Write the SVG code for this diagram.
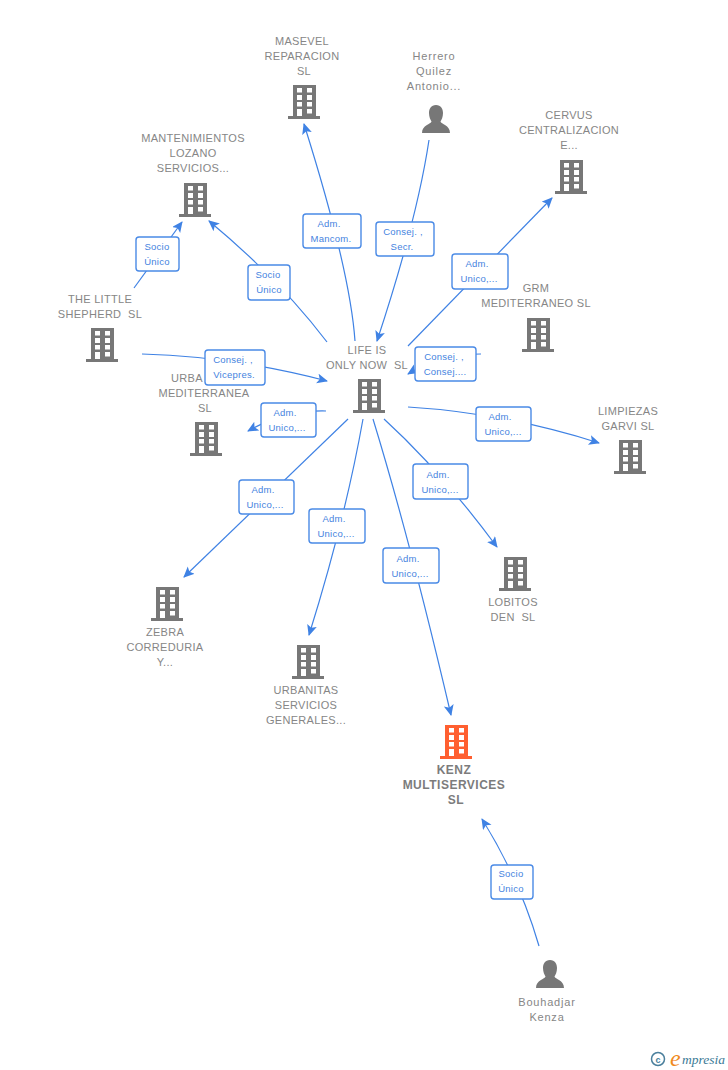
<svg xmlns="http://www.w3.org/2000/svg" width="728" height="1070" viewBox="0 0 728 1070">
<style>
text{font-family:"Liberation Sans",Arial,sans-serif;white-space:pre}
.n{font-size:11px;fill:#868686;text-anchor:middle;letter-spacing:.3px}
.p{font-size:11px;fill:#868686;text-anchor:middle;letter-spacing:.8px}
.k{font-size:12px;font-weight:bold;fill:#7c7c7c;text-anchor:middle;letter-spacing:.5px}
.l{font-size:9.500px;fill:#4583e0;text-anchor:middle;letter-spacing:.25px}
.c{fill:none;stroke:#3f82e4;stroke-width:1.200}
.b{fill:#fff;stroke:#4a8ae6;stroke-width:1.400}
.w{fill:#fff}
</style>
<defs>
<marker id="a" markerWidth="12" markerHeight="12" refX="10" refY="5" orient="auto" markerUnits="userSpaceOnUse"><path d="M0 0L11 5L0 10L2.500 5Z" fill="#3f82e4"/></marker>
<g id="bld">
<path d="M-11 0H12V31H16V34H-16V31H-11Z"/>
<path class="w" d="M-7 3h5v4.500h-5zM3 3h5v4.500h-5zM-7 10h5v5h-5zM3 10h5v5h-5zM-7 17h5v4.500h-5zM3 17h5v4.500h-5zM-7 24h5v7h-5zM3 24h5v4.500h-5z"/>
</g>
<path id="per" d="M0 0C5 0 7 4 7 8C7 12 5.500 15 4.500 16.500C5 19 14 20 14 28H-14C-14 20-5 19-4.500 16.500C-5.500 15-7 12-7 8C-7 4-5 0 0 0Z"/>
</defs>
<rect width="728" height="1070" fill="#fff"/>
<g id="connectors">
<path class="c" marker-end="url(#a)" d="M134 288L182 222"/>
<path class="c" marker-end="url(#a)" d="M327 342Q280 280 209 221"/>
<path class="c" marker-end="url(#a)" d="M355 341Q350 270 304 124"/>
<path class="c" marker-end="url(#a)" d="M429 140Q417 220 377 341"/>
<path class="c" marker-end="url(#a)" d="M408 346L552 198"/>
<path class="c" marker-end="url(#a)" d="M481 354Q440 354 408 374"/>
<path class="c" marker-end="url(#a)" d="M142 354Q230 356 327 381"/>
<path class="c" marker-end="url(#a)" d="M326 411Q285 410 248 431"/>
<path class="c" marker-end="url(#a)" d="M408 407Q505 413 599 443"/>
<path class="c" marker-end="url(#a)" d="M384 419Q440 470 497 547"/>
<path class="c" marker-end="url(#a)" d="M348 419L184 577"/>
<path class="c" marker-end="url(#a)" d="M363 419Q345 520 309 635"/>
<path class="c" marker-end="url(#a)" d="M373 419Q410 540 451 715"/>
<path class="c" marker-end="url(#a)" d="M539 946Q520 880 482 819"/>
</g>
<g id="edge-labels">
<g><rect class="b" x="136" y="237" width="43" height="34" rx="3"/><text class="l" x="157" y="250">Socio</text><text class="l" x="157" y="265">Único</text></g>
<g><rect class="b" x="248" y="265" width="42" height="35" rx="3"/><text class="l" x="268" y="278">Socio</text><text class="l" x="269" y="293">Único</text></g>
<g><rect class="b" x="303" y="214" width="58" height="34" rx="3"/><text class="l" x="329" y="227">Adm.</text><text class="l" x="331" y="242">Mancom.</text></g>
<g><rect class="b" x="376" y="222" width="58" height="34" rx="3"/><text class="l" x="403" y="235">Consej. ,</text><text class="l" x="402" y="250">Secr.</text></g>
<g><rect class="b" x="452" y="254" width="56" height="35" rx="3"/><text class="l" x="477" y="267">Adm.</text><text class="l" x="479" y="282">Unico,...</text></g>
<g><rect class="b" x="415" y="347" width="61" height="34" rx="3"/><text class="l" x="444" y="360">Consej. ,</text><text class="l" x="445" y="375">Consej....</text></g>
<g><rect class="b" x="205" y="350" width="60" height="35" rx="3"/><text class="l" x="233" y="363">Consej. ,</text><text class="l" x="234" y="378">Vicepres.</text></g>
<g><rect class="b" x="261" y="403" width="55" height="34" rx="3"/><text class="l" x="285" y="416">Adm.</text><text class="l" x="287" y="431">Unico,...</text></g>
<g><rect class="b" x="476" y="407" width="55" height="34" rx="3"/><text class="l" x="500" y="420">Adm.</text><text class="l" x="503" y="435">Unico,...</text></g>
<g><rect class="b" x="413" y="464" width="55" height="35" rx="3"/><text class="l" x="438" y="478">Adm.</text><text class="l" x="440" y="493">Unico,...</text></g>
<g><rect class="b" x="239" y="480" width="55" height="34" rx="3"/><text class="l" x="263" y="493">Adm.</text><text class="l" x="265" y="508">Unico,...</text></g>
<g><rect class="b" x="309" y="509" width="56" height="34" rx="3"/><text class="l" x="334" y="522">Adm.</text><text class="l" x="336" y="537">Unico,...</text></g>
<g><rect class="b" x="383" y="548" width="56" height="35" rx="3"/><text class="l" x="408" y="562">Adm.</text><text class="l" x="410" y="577">Unico,...</text></g>
<g><rect class="b" x="491" y="865" width="42" height="34" rx="3"/><text class="l" x="511" y="877">Socio</text><text class="l" x="511" y="892">Único</text></g>
</g>
<g id="masevel"><use href="#bld" x="304" y="85" fill="#777"/><text class="n" x="302" y="45">MASEVEL</text><text class="n" x="302" y="60">REPARACION</text><text class="n" x="304" y="75">SL</text></g>
<g id="herrero"><use href="#per" x="436" y="105" fill="#777"/><text class="p" x="434" y="60">Herrero</text><text class="p" x="434" y="75">Quilez</text><text class="p" x="434" y="90">Antonio...</text></g>
<g id="cervus"><use href="#bld" x="571" y="160" fill="#777"/><text class="n" x="569" y="119">CERVUS</text><text class="n" x="569" y="134">CENTRALIZACION</text><text class="n" x="569" y="149">E...</text></g>
<g id="mantenimientos"><use href="#bld" x="195" y="183" fill="#777"/><text class="n" x="193" y="142">MANTENIMIENTOS</text><text class="n" x="193" y="157">LOZANO</text><text class="n" x="193" y="172">SERVICIOS...</text></g>
<g id="little"><use href="#bld" x="102" y="328" fill="#777"/><text class="n" x="100" y="303">THE LITTLE</text><text class="n" x="100" y="318">SHEPHERD  SL</text></g>
<g id="grm"><use href="#bld" x="538" y="318" fill="#777"/><text class="n" x="536" y="292">GRM</text><text class="n" x="536" y="307">MEDITERRANEO SL</text></g>
<g id="urba"><use href="#bld" x="206" y="422" fill="#777"/><text class="n" x="187" y="382">URBA</text><text class="n" x="204" y="397">MEDITERRANEA</text><text class="n" x="205" y="412">SL</text></g>
<g id="life"><use href="#bld" x="369" y="379" fill="#777"/><text class="n" x="367" y="354">LIFE IS</text><text class="n" x="367" y="369">ONLY NOW  SL</text></g>
<g id="limpiezas"><use href="#bld" x="630" y="440" fill="#777"/><text class="n" x="628" y="415">LIMPIEZAS</text><text class="n" x="628" y="430">GARVI SL</text></g>
<g id="lobitos"><use href="#bld" x="515" y="557" fill="#777"/><text class="n" x="513" y="606">LOBITOS</text><text class="n" x="513" y="621">DEN  SL</text></g>
<g id="zebra"><use href="#bld" x="167" y="587" fill="#777"/><text class="n" x="165" y="636">ZEBRA</text><text class="n" x="165" y="651">CORREDURIA</text><text class="n" x="165" y="666">Y...</text></g>
<g id="urbanitas"><use href="#bld" x="308" y="645" fill="#777"/><text class="n" x="306" y="694">URBANITAS</text><text class="n" x="306" y="709">SERVICIOS</text><text class="n" x="306" y="724">GENERALES...</text></g>
<g id="kenz"><use href="#bld" x="456" y="725" fill="#ff5f30"/><text class="k" x="454" y="774">KENZ</text><text class="k" x="454" y="789">MULTISERVICES</text><text class="k" x="456" y="804">SL</text></g>
<g id="bouhadjar"><use href="#per" x="550" y="960" fill="#777"/><text class="p" x="547" y="1006">Bouhadjar</text><text class="p" x="547" y="1021">Kenza</text></g>
<g id="logo"><circle cx="658" cy="1059" r="6.500" fill="none" stroke="#4a7f9c" stroke-width="1.500"/><text x="658" y="1062.500" font-size="9" font-weight="bold" fill="#4a7f9c" text-anchor="middle">c</text><text x="670" y="1066" font-size="24" font-style="italic" fill="#f08a1d" style="font-family:'Liberation Serif',serif">e</text><text x="682" y="1064" font-size="13.500" font-style="italic" fill="#3c7a96" style="font-family:'Liberation Serif',serif">mpresia</text></g>
</svg>
